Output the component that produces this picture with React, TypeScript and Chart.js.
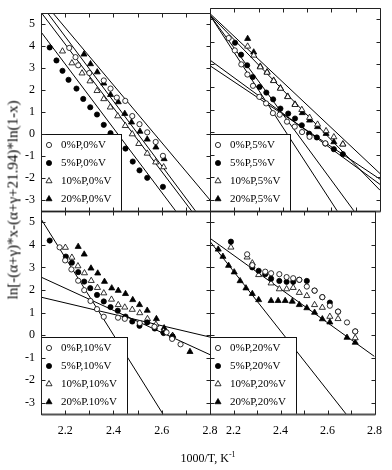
import React, { useEffect, useRef } from "react";
import { Chart, registerables } from "chart.js";
Chart.register(...registerables);

const SERIF = '"Liberation Serif", "Times New Roman", Times, serif';

// ---- axes ----
const X_MIN = 2.1;
const X_MAX = 2.8;
const Y_MIN = -3.5;
const Y_MAX = 5.5;
const xTickLabels = [2.2, 2.4, 2.6, 2.8];
const xMinorTicks = [2.1, 2.2, 2.3, 2.4, 2.5, 2.6, 2.7, 2.8];
const yTickLabels = [-3, -2, -1, 0, 1, 2, 3, 4, 5];

// ---- top-left: 0%V ----
const tlLabels = ["0%P,0%V", "5%P,0%V", "10%P,0%V", "20%P,0%V"];
const tl0x = [2.217, 2.243, 2.254, 2.3, 2.36, 2.388, 2.414, 2.449, 2.478, 2.508, 2.54, 2.575, 2.605];
const tl0y = [3.92, 3.5, 3.13, 2.78, 2.44, 2.07, 1.66, 1.51, 0.82, 0.45, 0.08, -0.36, -0.99];
const tl5x = [2.136, 2.164, 2.189, 2.214, 2.247, 2.275, 2.304, 2.332, 2.36, 2.388, 2.418, 2.45, 2.48, 2.508, 2.54, 2.605];
const tl5y = [3.94, 3.35, 2.88, 2.47, 2.07, 1.6, 1.22, 0.89, 0.42, 0.04, -0.44, -0.66, -1.25, -1.65, -1.99, -2.4];
const tl10x = [2.189, 2.228, 2.27, 2.303, 2.332, 2.36, 2.387, 2.418, 2.449, 2.478, 2.505, 2.54, 2.575, 2.608];
const tl10y = [3.77, 3.23, 2.77, 2.41, 1.97, 1.6, 1.22, 0.82, 0.38, 0.0, -0.44, -0.88, -1.28, -1.5];
const tl20x = [2.278, 2.305, 2.333, 2.36, 2.388, 2.42, 2.447, 2.475, 2.51, 2.54, 2.576, 2.61];
const tl20y = [3.63, 3.19, 2.82, 2.31, 1.79, 1.46, 0.93, 0.54, 0.12, -0.24, -0.6, -1.13];
const tlLines = [
  [2.1, 4.65, 2.658, -3.5],
  [2.103, 5.5, 2.724, -3.5],
  [2.128, 5.5, 2.74, -3.5],
  [2.15, 5.5, 2.8, -3.0],
];

// ---- top-right: 5%V ----
const trLabels = ["0%P,5%V", "5%P,5%V", "10%P,5%V", "20%P,5%V"];
const tr0x = [2.177, 2.202, 2.229, 2.254, 2.277, 2.303, 2.331, 2.359, 2.387, 2.417, 2.449, 2.479, 2.51, 2.575];
const tr0y = [4.17, 3.62, 3.0, 2.55, 2.05, 1.56, 1.27, 0.84, 0.77, 0.46, 0.24, 0.0, -0.21, -0.5];
const tr5x = [2.203, 2.228, 2.253, 2.276, 2.304, 2.332, 2.36, 2.39, 2.422, 2.45, 2.478, 2.508, 2.54, 2.575, 2.61, 2.647];
const tr5y = [3.96, 3.43, 2.96, 2.44, 2.0, 1.75, 1.45, 1.04, 0.82, 0.6, 0.3, -0.07, -0.24, -0.51, -0.76, -0.98];
const tr10x = [2.255, 2.28, 2.307, 2.335, 2.362, 2.39, 2.42, 2.45, 2.478, 2.51, 2.543, 2.578, 2.61, 2.647];
const tr10y = [3.8, 3.4, 2.88, 2.64, 2.27, 1.93, 1.56, 1.21, 0.99, 0.64, 0.34, 0.05, -0.22, -0.54];
const tr20x = [2.255, 2.28, 2.307, 2.335, 2.362, 2.39, 2.42, 2.45, 2.48, 2.51, 2.543, 2.578, 2.61, 2.647];
const tr20y = [4.14, 3.54, 2.91, 2.66, 2.29, 1.95, 1.58, 1.23, 0.85, 0.52, 0.23, -0.07, -0.44, -0.54];
const trLines = [
  [2.096, 5.24, 2.624, -3.5],
  [2.096, 5.24, 2.693, -3.5],
  [2.1, 5.2, 2.8, -2.58],
  [2.1, 5.25, 2.8, -1.84],
  [2.1, 3.19, 2.8, -2.32],
  [2.1, 2.94, 2.8, -2.09],
];

// ---- bottom-left: 10%V ----
const blLabels = ["0%P,10%V", "5%P,10%V", "10%P,10%V", "20%P.10%V"];
const bl0x = [2.177, 2.2, 2.226, 2.254, 2.279, 2.305, 2.332, 2.36, 2.419, 2.447, 2.509, 2.57, 2.62, 2.643, 2.678];
const bl0y = [3.89, 3.31, 2.91, 2.41, 1.99, 1.51, 1.15, 0.81, 0.77, 0.72, 0.53, 0.37, 0.12, -0.17, -0.41];
const bl5x = [2.136, 2.203, 2.228, 2.254, 2.279, 2.304, 2.332, 2.36, 2.388, 2.418, 2.45, 2.478, 2.508, 2.54, 2.571, 2.608, 2.645];
const bl5y = [4.19, 3.48, 3.21, 2.79, 2.37, 2.08, 1.78, 1.49, 1.24, 1.08, 0.82, 0.6, 0.41, 0.56, 0.29, 0.09, -0.06];
const bl10x = [2.201, 2.228, 2.253, 2.28, 2.308, 2.334, 2.36, 2.392, 2.42, 2.447, 2.478, 2.509, 2.541, 2.576, 2.607, 2.645];
const bl10y = [3.88, 3.44, 3.06, 2.75, 2.41, 2.1, 1.86, 1.58, 1.34, 1.23, 1.13, 0.98, 0.72, 0.47, 0.17, -0.03];
const bl20x = [2.254, 2.279, 2.307, 2.335, 2.363, 2.393, 2.42, 2.45, 2.48, 2.508, 2.54, 2.578, 2.61, 2.645, 2.717];
const bl20y = [3.92, 3.58, 2.96, 2.74, 2.37, 2.08, 1.97, 1.83, 1.56, 1.34, 1.09, 0.72, 0.31, -0.03, -0.74];
const blLines = [
  [2.1, 5.15, 2.605, -3.5],
  [2.1, 2.57, 2.8, -0.87],
  [2.1, 1.68, 2.8, -0.09],
];

// ---- bottom-right: 20%V ----
const brLabels = ["0%P,20%V", "5%P,20%V", "10%P,20%V", "20%P,20%V"];
const br0x = [2.258, 2.28, 2.335, 2.36, 2.395, 2.426, 2.454, 2.48, 2.512, 2.545, 2.578, 2.61, 2.645, 2.683, 2.718];
const br0y = [3.58, 3.1, 2.81, 2.74, 2.7, 2.57, 2.52, 2.45, 2.15, 1.97, 1.68, 1.3, 1.04, 0.56, 0.16];
const br5x = [2.189, 2.28, 2.307, 2.335, 2.36, 2.395, 2.426, 2.454, 2.48, 2.512, 2.545, 2.578, 2.61, 2.645, 2.718];
const br5y = [4.14, 3.0, 2.85, 2.7, 2.5, 2.4, 2.36, 2.36, 2.45, 2.4, 1.97, 1.68, 1.44, 1.04, 0.16];
const br10x = [2.189, 2.258, 2.28, 2.307, 2.36, 2.395, 2.426, 2.454, 2.48, 2.512, 2.545, 2.578, 2.61, 2.645, 2.718];
const br10y = [3.89, 3.45, 3.19, 2.67, 2.3, 2.04, 2.04, 2.1, 1.88, 1.74, 1.34, 1.22, 0.82, 0.72, -0.13];
const br20x = [2.135, 2.155, 2.179, 2.203, 2.228, 2.253, 2.28, 2.307, 2.36, 2.39, 2.42, 2.45, 2.48, 2.512, 2.545, 2.578, 2.61, 2.683, 2.718];
const br20y = [3.8, 3.48, 3.08, 2.79, 2.4, 2.08, 1.83, 1.56, 1.52, 1.52, 1.52, 1.49, 1.34, 1.2, 1.0, 0.71, 0.57, -0.11, -0.33];
const brLines = [
  [2.1, 4.29, 2.8, -0.95],
  [2.1, 4.15, 2.679, -3.5],
];

// marker per series order: open circle, filled circle, open triangle, filled triangle
const markerStyles = [
  { shape: "circle", filled: false },
  { shape: "circle", filled: true },
  { shape: "triangle", filled: false },
  { shape: "triangle", filled: true },
];

const W = 392;
const H = 470;

type PanelCfg = {
  rect: { left: number; top: number; right: number; bottom: number };
  showX: boolean;
  showY: boolean;
  legendWidth: number;
  labels: string[];
  xs: number[][];
  ys: number[][];
  lines: number[][];
};

function drawMarker(ctx: CanvasRenderingContext2D, shape: string, filled: boolean, x: number, y: number) {
  ctx.save();
  ctx.beginPath();
  if (shape === "circle") {
    ctx.arc(x, y, 2.6, 0, Math.PI * 2);
  } else {
    const r = 3.5;
    for (let k = 0; k < 3; k++) {
      const a = (k * 2 * Math.PI) / 3;
      const px = x + Math.sin(a) * r;
      const py = y - Math.cos(a) * r;
      if (k === 0) ctx.moveTo(px, py);
      else ctx.lineTo(px, py);
    }
    ctx.closePath();
  }
  ctx.fillStyle = filled ? "#000" : "#fff";
  ctx.fill();
  ctx.lineWidth = 0.8;
  ctx.strokeStyle = "#000";
  ctx.stroke();
  ctx.restore();
}

const panelDecor = {
  id: "panelDecor",
  afterDatasetsDraw(chart: any, _args: any, opts: any) {
    const { ctx, chartArea: a } = chart;
    const xs = chart.scales.x;
    const ys = chart.scales.y;
    ctx.save();
    // inset legend
    const lw = opts.legendWidth;
    const lh = 77;
    const lx = a.left;
    const ly = a.bottom - lh;
    ctx.fillStyle = "#fff";
    ctx.fillRect(lx, ly, lw, lh);
    ctx.strokeStyle = "#111";
    ctx.lineWidth = 1;
    ctx.strokeRect(Math.round(lx) + 0.5, Math.round(ly) + 0.5, lw, lh);
    ctx.font = `11px ${SERIF}`;
    ctx.textBaseline = "middle";
    ctx.textAlign = "left";
    ctx.fillStyle = "#000";
    const items = chart.data.datasets.filter((d: any) => d.label);
    items.forEach((d: any, i: number) => {
      const cy = ly + 11 + i * 18;
      drawMarker(ctx, d.markerShape, d.markerFilled, lx + 8, cy);
      ctx.fillStyle = "#000";
      ctx.fillText(d.label, lx + 20, cy + 0.5);
    });
    // frame
    ctx.strokeStyle = "#222";
    ctx.lineWidth = 1;
    const L = Math.round(a.left) + 0.5;
    const R = Math.round(a.right) + 0.5;
    const T = Math.round(a.top) + 0.5;
    const B = Math.round(a.bottom) + 0.5;
    ctx.beginPath();
    ctx.moveTo(L, B);
    ctx.lineTo(L, T);
    ctx.lineTo(R, T);
    ctx.lineTo(R, B);
    ctx.stroke();
    ctx.strokeStyle = "#555";
    ctx.lineWidth = 2;
    ctx.beginPath();
    ctx.moveTo(L, B);
    ctx.lineTo(R, B);
    ctx.stroke();
    // inner ticks
    ctx.strokeStyle = "#222";
    ctx.lineWidth = 1;
    const tl = 4;
    ctx.beginPath();
    xMinorTicks.forEach((v) => {
      const px = Math.round(xs.getPixelForValue(v)) + 0.5;
      ctx.moveTo(px, B);
      ctx.lineTo(px, B - tl);
      ctx.moveTo(px, T);
      ctx.lineTo(px, T + tl);
    });
    yTickLabels.forEach((v) => {
      const py = Math.round(ys.getPixelForValue(v)) + 0.5;
      ctx.moveTo(L, py);
      ctx.lineTo(L + tl, py);
      ctx.moveTo(R, py);
      ctx.lineTo(R - tl, py);
    });
    ctx.stroke();
    ctx.restore();
  },
};

function Panel({ cfg }: { cfg: PanelCfg }) {
  const ref = useRef<HTMLCanvasElement>(null);
  useEffect(() => {
    const yAxisW = 41;
    const xAxisH = 30;
    const pad = {
      left: cfg.showY ? cfg.rect.left - yAxisW : cfg.rect.left,
      right: W - cfg.rect.right,
      top: cfg.rect.top,
      bottom: cfg.showX ? H - cfg.rect.bottom - xAxisH : H - cfg.rect.bottom,
    };
    const lineSets = cfg.lines.map((l) => ({
      data: [
        { x: l[0], y: l[1] },
        { x: l[2], y: l[3] },
      ],
      showLine: true,
      pointRadius: 0,
      borderColor: "#000",
      borderWidth: 1,
      fill: false,
      order: 2,
    }));
    const pointSets = cfg.labels.map((label, i) => {
      const m = markerStyles[i];
      return {
        label,
        markerShape: m.shape,
        markerFilled: m.filled,
        data: cfg.xs[i].map((x, k) => ({ x, y: cfg.ys[i][k] })),
        showLine: false,
        pointStyle: m.shape,
        pointRadius: m.shape === "circle" ? 2.6 : 3.5,
        pointBackgroundColor: m.filled ? "#000" : "#fff",
        pointBorderColor: "#000",
        pointBorderWidth: 0.8,
        order: 1,
      };
    });
    const chart = new Chart(ref.current as HTMLCanvasElement, {
      type: "scatter",
      data: { datasets: [...lineSets, ...pointSets] as any },
      options: {
        responsive: false,
        animation: false,
        devicePixelRatio: 1,
        events: [],
        layout: { padding: pad },
        plugins: {
          legend: { display: false },
          tooltip: { enabled: false },
          panelDecor: { legendWidth: cfg.legendWidth },
        } as any,
        scales: {
          x: {
            type: "linear",
            min: X_MIN,
            max: X_MAX,
            display: cfg.showX,
            grid: { display: false, drawTicks: false },
            border: { display: false },
            afterBuildTicks: (s: any) => {
              s.ticks = xTickLabels.map((v) => ({ value: v }));
            },
            afterFit: (s: any) => {
              if (cfg.showX) s.height = xAxisH;
            },
            ticks: {
              padding: 10,
              autoSkip: false,
              maxRotation: 0,
              color: "#000",
              font: { family: SERIF, size: 12 },
              callback: (v: any) => Number(v).toFixed(1),
            },
          },
          y: {
            type: "linear",
            min: Y_MIN,
            max: Y_MAX,
            display: cfg.showY,
            grid: { display: false, drawTicks: false },
            border: { display: false },
            afterBuildTicks: (s: any) => {
              s.ticks = yTickLabels.map((v) => ({ value: v }));
            },
            afterFit: (s: any) => {
              if (cfg.showY) s.width = yAxisW;
            },
            ticks: {
              padding: 6,
              autoSkip: false,
              color: "#000",
              font: { family: SERIF, size: 12 },
              callback: (v: any) => String(v),
            },
          },
        },
      },
      plugins: [panelDecor as any],
    });
    return () => chart.destroy();
  }, [cfg]);
  return <canvas ref={ref} width={W} height={H} style={{ position: "absolute", left: 0, top: 0 }} />;
}

const panels: PanelCfg[] = [
  {
    rect: { left: 41, top: 8, right: 210, bottom: 211 },
    showX: false,
    showY: true,
    legendWidth: 80,
    labels: tlLabels,
    xs: [tl0x, tl5x, tl10x, tl20x],
    ys: [tl0y, tl5y, tl10y, tl20y],
    lines: tlLines,
  },
  {
    rect: { left: 210, top: 8, right: 380, bottom: 211 },
    showX: false,
    showY: false,
    legendWidth: 80,
    labels: trLabels,
    xs: [tr0x, tr5x, tr10x, tr20x],
    ys: [tr0y, tr5y, tr10y, tr20y],
    lines: trLines,
  },
  {
    rect: { left: 41, top: 211, right: 210, bottom: 414 },
    showX: true,
    showY: true,
    legendWidth: 86,
    labels: blLabels,
    xs: [bl0x, bl5x, bl10x, bl20x],
    ys: [bl0y, bl5y, bl10y, bl20y],
    lines: blLines,
  },
  {
    rect: { left: 210, top: 211, right: 380, bottom: 414 },
    showX: true,
    showY: false,
    legendWidth: 86,
    labels: brLabels,
    xs: [br0x, br5x, br10x, br20x],
    ys: [br0y, br5y, br10y, br20y],
    lines: brLines,
  },
];

export default function App() {
  return (
    <div style={{ position: "absolute", left: 0, top: 0, width: W, height: H, background: "#fff", overflow: "hidden" }}>
      {panels.map((p, i) => (
        <Panel key={i} cfg={p} />
      ))}
      <div
        style={{
          position: "absolute",
          left: 13,
          top: 200,
          transform: "translate(-50%, -50%) rotate(-90deg)",
          whiteSpace: "nowrap",
          fontFamily: SERIF,
          fontSize: 15,
          color: "#000",
          lineHeight: 1,
        }}
      >
        ln[-(α+γ)*x-(α+γ+21.94)*ln(1-x)
      </div>
      <div
        style={{
          position: "absolute",
          left: 208,
          top: 458,
          transform: "translate(-50%, -50%)",
          whiteSpace: "nowrap",
          fontFamily: SERIF,
          fontSize: 12,
          color: "#000",
          lineHeight: 1,
        }}
      >
        1000/T, K<sup style={{ fontSize: 8, lineHeight: 0 }}>-1</sup>
      </div>
    </div>
  );
}
